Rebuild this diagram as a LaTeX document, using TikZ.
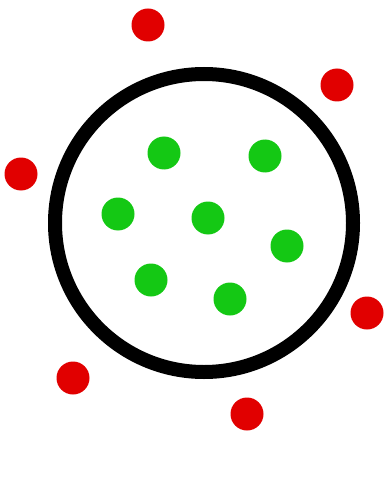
\documentclass[tikz,border=0pt]{standalone}
\usepackage{tikz}
\usetikzlibrary{positioning}
\definecolor{dotgreen}{RGB}{20,200,20}
\definecolor{dotred}{RGB}{225,0,0}
\tikzset{
  ingrp/.style={
    inner sep = 0pt,
    shape = circle,
    minimum size = 33pt,
    fill = dotgreen
  },
  outgrp/.style={
    inner sep = 0pt,
    shape = circle,
    minimum size = 33pt,
    fill = dotred
  },
  ring/.style={
    line width = 14pt,
    draw = black
  }
}
\begin{document}
\begin{tikzpicture}[x=1pt,y=-1pt]
        \useasboundingbox (0,0) rectangle (389,497);

        % the boundary
        \coordinate (centre) at (204,223);
        \draw[ring] (centre) circle [radius=149];

        % inside
        \node[ingrp] (g1) at (164,153) {};
        \node[ingrp] (g2) at (265,156) {};
        \node[ingrp] (g3) at (118,214) {};
        \node[ingrp] (g4) at (208,218) {};
        \node[ingrp] (g5) at (287,246) {};
        \node[ingrp] (g6) at (151,280) {};
        \node[ingrp] (g7) at (230,299) {};

        % outside
        \node[outgrp] (r1) at (148,25) {};
        \node[outgrp] (r2) at (337,85) {};
        \node[outgrp] (r3) at (21,174) {};
        \node[outgrp] (r4) at (367,313) {};
        \node[outgrp] (r5) at (73,378) {};
        \node[outgrp] (r6) at (247,414) {};
\end{tikzpicture}
\end{document}
